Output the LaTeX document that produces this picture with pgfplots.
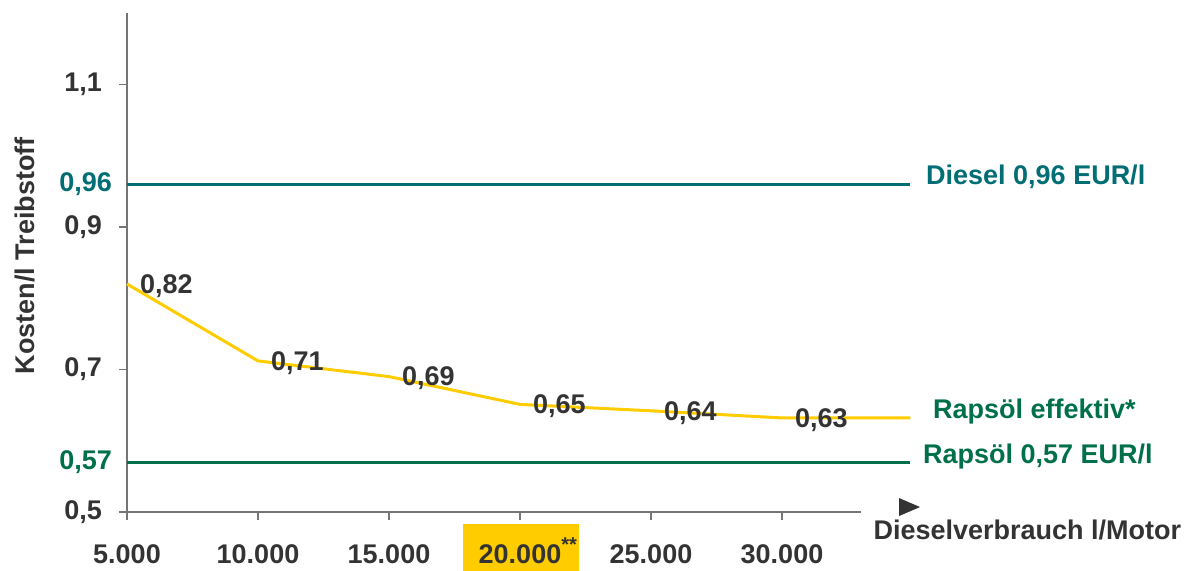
\documentclass[border=0pt]{standalone}
\usepackage{pgfplots}
\pgfplotsset{compat=1.18}
\usepackage{fontspec}
\setmainfont{Liberation Sans}
\definecolor{txt}{HTML}{333333}
\definecolor{teal1}{HTML}{006E74}
\definecolor{green1}{HTML}{00704A}
\definecolor{yel}{HTML}{FFCC00}
\definecolor{axgray}{HTML}{757575}
\begin{document}
\begin{tikzpicture}
\path[use as bounding box] (-63.5pt,-29.5pt) rectangle (530pt,256pt);
\begin{axis}[
 at={(0,0)}, anchor=south west,
 scale only axis, width=366.8pt, height=249.4pt,
 xmin=5000, xmax=33000, ymin=0.5, ymax=1.2,
 axis x line*=bottom, axis y line*=left,
 axis line style={axgray, line width=0.75pt, -},
 tick style={axgray, line width=0.75pt},
 tick align=outside, major tick length=4pt,
 xtick={5000,10000,15000,20000,25000,30000},
 xticklabels={5.000,10.000,15.000,{\rlap{\smash{\hspace{-8pt}\textcolor{yel}{\rule[-8pt]{58pt}{28pt}}}}20.000\rlap{\smash{\raisebox{0.45em}{\fontsize{10pt}{10pt}\selectfont **}}}},25.000,30.000},
 ytick={0.5,0.7,0.9,1.1},
 yticklabels={{0,5},{0,7},{0,9},{1,1}},
 extra y ticks={0.96,0.57},
 extra y tick labels={{\textcolor{teal1}{0,96}},{\textcolor{green1}{0,57}}},
 extra y tick style={major tick length=0pt, yticklabel style={xshift=1pt}},
 tick label style={font=\fontsize{13.5pt}{16pt}\selectfont\bfseries, text=txt},
 xticklabel style={yshift=-9pt},
 yticklabel style={xshift=-5pt},
 label style={font=\fontsize{13.5pt}{16pt}\selectfont\bfseries, text=txt},
 ylabel={Kosten/l Treibstoff},
 ylabel style={at={(axis description cs:-0.139,0.514)}, anchor=center},
 xlabel={Dieselverbrauch l/Motor},
 xlabel style={at={(axis description cs:1.008,-0.036)}, anchor=west},
 clip=false,
]
\addplot[teal1, line width=1.5pt] coordinates {(5000,0.96) (34900,0.96)};
\addplot[green1, line width=1.5pt] coordinates {(5000,0.57) (34900,0.57)};
\addplot[yel, line width=1.5pt, nodes near coords, point meta=explicit symbolic,
  nodes near coords style={anchor=west, xshift=2.5pt, yshift=-1pt, text=txt, font=\fontsize{13.5pt}{16pt}\selectfont\bfseries}]
  coordinates {(5000,0.82) [0,82] (10000,0.712) [0,71] (15000,0.69) [0,69] (20000,0.651) [0,65] (25000,0.642) [0,64] (30000,0.632) [0,63] (34900,0.632) []};
\node[anchor=west, text=teal1, font=\fontsize{13.5pt}{16pt}\selectfont\bfseries] at (axis cs:35233,0.971) {Diesel 0,96 EUR/l};
\node[anchor=west, text=green1, font=\fontsize{13.5pt}{16pt}\selectfont\bfseries] at (axis cs:35496,0.641) {Rapsöl effektiv*};
\node[anchor=west, text=green1, font=\fontsize{13.5pt}{16pt}\selectfont\bfseries] at (axis cs:35115,0.578) {Rapsöl 0,57 EUR/l};
\fill[txt] (axis description cs:1.0524,0.028) -- ++(0pt,-9pt) -- ++(10.5pt,4.5pt) -- cycle;
\end{axis}
\end{tikzpicture}
\end{document}
